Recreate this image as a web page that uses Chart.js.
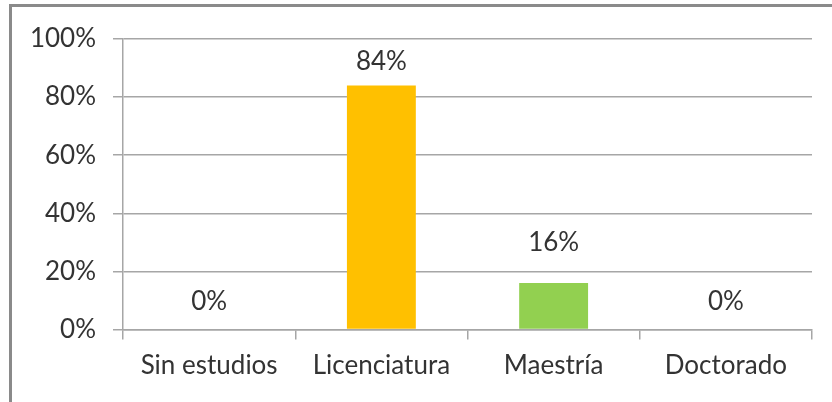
<!DOCTYPE html>
<html>
<head>
<meta charset="utf-8">
<script src="https://cdn.jsdelivr.net/npm/chart.js@4"></script>
<style>
  html, body { margin: 0; padding: 0; background: #fff; }
  body { width: 832px; height: 402px; overflow: hidden; position: relative; }
  #frame {
    position: absolute; left: 9px; top: 4px; width: 840px; height: 420px;
    border-left: 3px solid #8a8a8a; border-top: 3px solid #8a8a8a;
  }
  #wrap { position: absolute; left: 0; top: 0; width: 832px; height: 402px; }
</style>
</head>
<body>
<div id="frame"></div>
<div id="wrap"><canvas id="grafica"></canvas></div>
<script>
// categorías y valores (%)
const categorias = ['Sin estudios', 'Licenciatura', 'Maestría', 'Doctorado'];
const valores = [0, 84, 16, 0];
const colores = ['#4F81BD', '#FFC000', '#92D050', '#4F81BD'];
const ticksY = [0, 20, 40, 60, 80, 100];

const FUENTE = 'Lato';
const TAM = 26;
const GRIS = '#a6a6a6';

const etiquetasBarras = {
  id: 'etiquetasBarras',
  afterDatasetsDraw(chart) {
    const opts = chart.options.plugins.etiquetasBarras;
    const { ctx } = chart;
    const meta = chart.getDatasetMeta(0);
    ctx.save();
    ctx.font = TAM + 'px ' + FUENTE;
    ctx.fillStyle = '#333';
    ctx.textAlign = 'center';
    ctx.textBaseline = 'middle';
    meta.data.forEach((bar, i) => {
      ctx.fillText(valores[i] + '%', bar.x, bar.y - opts.offsets[i]);
    });
    ctx.restore();
  },
};

new Chart(document.getElementById('grafica'), {
  type: 'bar',
  data: {
    labels: categorias,
    datasets: [{
      data: valores,
      backgroundColor: colores,
      barPercentage: 0.4,
      categoryPercentage: 1,
    }],
  },
  options: {
    responsive: true,
    maintainAspectRatio: false,
    animation: false,
    layout: { padding: { left: 0, top: 39, right: 20, bottom: 0 } },
    plugins: {
      legend: { display: false },
      tooltip: { enabled: false },
      etiquetasBarras: { offsets: [28, 24, 40, 28] },
    },
    scales: {
      x: {
        grid: {
          drawOnChartArea: false,
          drawTicks: true,
          tickLength: 10,
          color: GRIS,
          lineWidth: 1.5,
        },
        border: { color: GRIS, width: 1.5 },
        ticks: {
          color: '#333',
          font: { family: FUENTE, size: TAM },
          padding: 11,
          maxRotation: 0,
        },
        afterFit(scale) { scale.height = 72.5; },
      },
      y: {
        min: 0,
        max: 100,
        afterBuildTicks(scale) {
          scale.ticks = ticksY.map(v => ({ value: v }));
        },
        grid: {
          color: GRIS,
          lineWidth: 1.5,
          tickLength: 10,
        },
        border: { color: GRIS, width: 1.5 },
        ticks: {
          color: '#333',
          font: { family: FUENTE, size: TAM },
          padding: 17,
          callback: v => v + '%',
        },
        afterFit(scale) { scale.width = 123; },
      },
    },
  },
  plugins: [etiquetasBarras],
});
</script>
</body>
</html>
